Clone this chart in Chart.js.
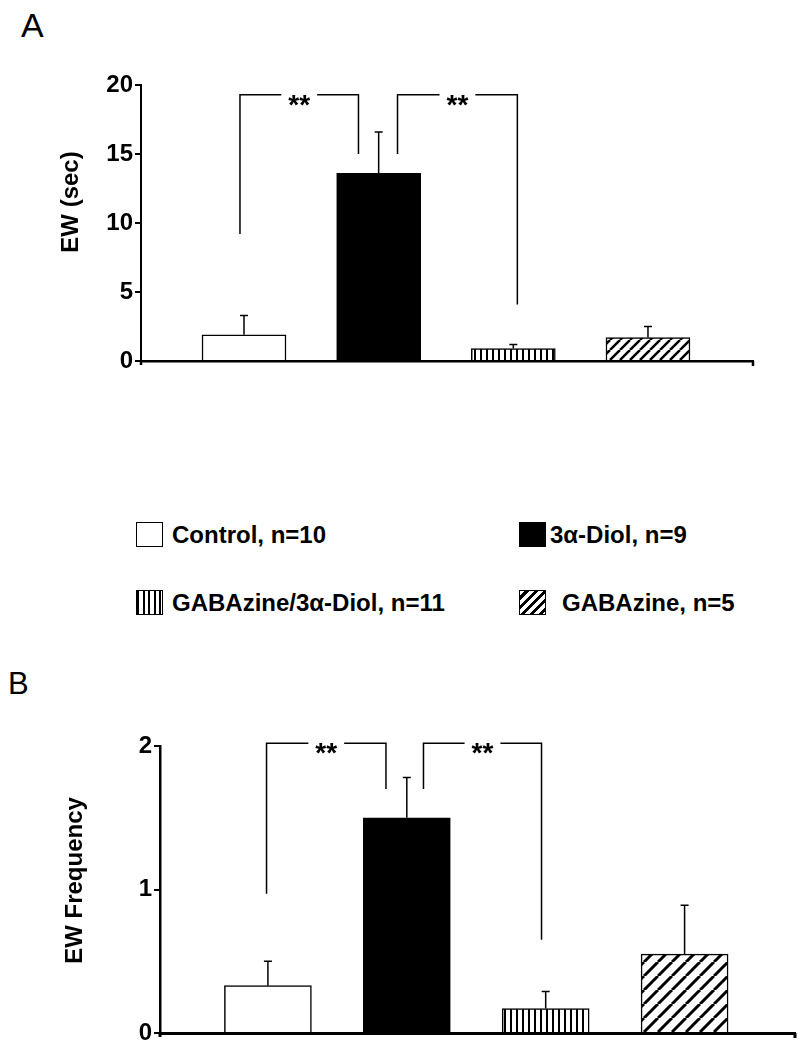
<!DOCTYPE html>
<html>
<head>
<meta charset="utf-8">
<script src="https://cdn.jsdelivr.net/npm/chart.js@4.4.1/dist/chart.umd.min.js"></script>
<style>
  html, body { margin: 0; padding: 0; background: #fff; }
  body { width: 803px; height: 1050px; position: relative; overflow: hidden;
         font-family: "Liberation Sans", Arial, sans-serif; color: #000; }
  .panel { position: absolute; left: 0; }
  .letter { position: absolute; line-height: 1; }
  .leg { position: absolute; font-size: 24px; font-weight: bold; line-height: 25px; white-space: nowrap; }
  .sw { position: absolute; width: 27px; height: 25px; box-sizing: border-box; border: 1.5px solid #000; background: #fff; }
</style>
</head>
<body>

<div class="letter" style="left:21px; top:8px; font-size:34px;">A</div>
<div class="panel" style="top:0;"><canvas id="chartA" width="803" height="400"></canvas></div>

<div id="legend"></div>

<div class="letter" style="left:8px; top:668px; font-size:31px;">B</div>
<div class="panel" style="top:640px;"><canvas id="chartB" width="803" height="410"></canvas></div>

<script>
// datos
const categories = ['Control', '3α-Diol', 'GABAzine/3α-Diol', 'GABAzine'];
const legendLabels = ['Control, n=10', '3α-Diol, n=9', 'GABAzine/3α-Diol, n=11', 'GABAzine, n=5'];

const ewSec = [1.9, 13.6, 0.9, 1.7];
const ewSecErr = [1.4, 3.0, 0.3, 0.8];
const ewSecTicks = [0, 5, 10, 15, 20];

const ewFreq = [0.33, 1.5, 0.17, 0.55];
const ewFreqErr = [0.17, 0.28, 0.12, 0.34];
const ewFreqTicks = [0, 1, 2];

const FONT = '"Liberation Sans", Arial, sans-serif';

// patrones de relleno
function stripes(gap, lw) {
  const c = document.createElement('canvas');
  c.width = gap; c.height = gap;
  const g = c.getContext('2d');
  g.fillStyle = '#fff'; g.fillRect(0, 0, gap, gap);
  g.fillStyle = '#000'; g.fillRect(0, 0, lw, gap);
  return g.createPattern(c, 'repeat');
}
function hatch(size, lw) {
  const c = document.createElement('canvas');
  c.width = size; c.height = size;
  const g = c.getContext('2d');
  g.fillStyle = '#fff'; g.fillRect(0, 0, size, size);
  g.strokeStyle = '#000'; g.lineWidth = lw;
  g.beginPath();
  [-size, 0, size].forEach(k => { g.moveTo(k, size); g.lineTo(k + size, 0); });
  g.stroke();
  return g.createPattern(c, 'repeat');
}

// barras de error, corchetes de significancia, titulo del eje
const extras = {
  id: 'extras',
  afterDatasetsDraw(chart, args, o) {
    const ctx = chart.ctx;
    const xs = chart.scales.x, ys = chart.scales.y;
    const area = chart.chartArea;
    ctx.save();
    ctx.strokeStyle = '#000';
    ctx.fillStyle = '#000';

    // error (solo hacia arriba)
    ctx.lineWidth = 1.5;
    o.values.forEach((v, i) => {
      const x = xs.getPixelForValue(i);
      const y0 = ys.getPixelForValue(v);
      const y1 = ys.getPixelForValue(v + o.errors[i]);
      ctx.beginPath();
      ctx.moveTo(x, y0); ctx.lineTo(x, y1);
      ctx.moveTo(x - o.cap, y1); ctx.lineTo(x + o.cap, y1);
      ctx.stroke();
    });

    // corchetes **
    ctx.font = 'bold 28px ' + FONT;
    ctx.textAlign = 'center';
    ctx.textBaseline = 'alphabetic';
    o.brackets.forEach(b => {
      const xa = xs.getPixelForValue(b.x1), xb = xs.getPixelForValue(b.x2);
      const yt = ys.getPixelForValue(b.yTop);
      const xm = (xa + xb) / 2;
      const half = ctx.measureText(b.text).width / 2 + 7;
      ctx.beginPath();
      ctx.moveTo(xa, ys.getPixelForValue(b.y1)); ctx.lineTo(xa, yt); ctx.lineTo(xm - half, yt);
      ctx.moveTo(xm + half, yt); ctx.lineTo(xb, yt); ctx.lineTo(xb, ys.getPixelForValue(b.y2));
      ctx.stroke();
      ctx.fillText(b.text, xm, yt + 19);
    });

    // gancho al final del eje x y prolongacion del eje y
    ctx.lineWidth = o.axisWidth;
    ctx.beginPath();
    ctx.moveTo(area.right, area.bottom); ctx.lineTo(area.right, area.bottom + 5);
    ctx.moveTo(area.left, area.bottom); ctx.lineTo(area.left, area.bottom + 4);
    ctx.stroke();

    // titulo del eje y
    ctx.font = 'bold 24px ' + FONT;
    ctx.textBaseline = 'middle';
    ctx.translate(o.titleX, (area.top + area.bottom) / 2 + o.titleShift);
    ctx.rotate(-Math.PI / 2);
    ctx.fillText(o.title, 0, 0);
    ctx.restore();
  }
};

function makeChart(id, values, errors, tickVals, cfg) {
  const ctx = document.getElementById(id).getContext('2d');
  return new Chart(ctx, {
    type: 'bar',
    data: {
      labels: categories,
      datasets: [{
        label: cfg.title,
        data: values.map((v, i) => ({ x: i, y: v })),
        backgroundColor: ['#fff', '#000', stripes(6, 2), hatch(cfg.hatch, cfg.hatchWidth)],
        borderColor: '#000',
        borderWidth: 1.5,
        borderSkipped: 'bottom',
        barThickness: cfg.barWidth
      }]
    },
    options: {
      responsive: false,
      animation: false,
      devicePixelRatio: 1,
      layout: { padding: { top: cfg.top, right: cfg.right, left: 0, bottom: 0 } },
      plugins: {
        legend: { display: false },
        tooltip: { enabled: false },
        extras: {
          values: values, errors: errors, cap: 4,
          brackets: cfg.brackets, axisWidth: cfg.xAxisWidth,
          title: cfg.title, titleX: cfg.titleX, titleShift: cfg.titleShift
        }
      },
      scales: {
        x: {
          type: 'linear',
          offset: false,
          min: cfg.xMin, max: cfg.xMax,
          ticks: { display: false },
          grid: { display: false, drawTicks: false, offset: false },
          border: { display: true, color: '#000', width: cfg.xAxisWidth },
          afterFit: s => { s.height = cfg.xHeight; }
        },
        y: {
          min: tickVals[0], max: tickVals[tickVals.length - 1],
          afterBuildTicks: s => { s.ticks = tickVals.map(v => ({ value: v })); },
          ticks: { color: '#000', padding: 2, font: { family: FONT, size: 24, weight: 'bold' } },
          grid: { display: true, drawOnChartArea: false, drawTicks: true, tickLength: 6, color: '#000', lineWidth: 2 },
          border: { display: true, color: '#000', width: cfg.yAxisWidth },
          afterFit: s => { s.width = cfg.yWidth; }
        }
      }
    },
    plugins: [extras]
  });
}

makeChart('chartA', ewSec, ewSecErr, ewSecTicks, {
  title: 'EW (sec)', titleX: 71, titleShift: -21,
  top: 85, right: 50, yWidth: 141, xHeight: 39,
  xMin: -0.765, xMax: 3.78, barWidth: 84,
  hatch: 10, hatchWidth: 2.5, xAxisWidth: 2.5, yAxisWidth: 2,
  brackets: [
    { x1: -0.03, x2: 0.85, yTop: 19.3, y1: 9.2, y2: 15.0, text: '**' },
    { x1: 1.14, x2: 2.03, yTop: 19.3, y1: 15.0, y2: 4.1, text: '**' }
  ]
});

makeChart('chartB', ewFreq, ewFreqErr, ewFreqTicks, {
  title: 'EW Frequency', titleX: 75, titleShift: -9,
  top: 106, right: 8, yWidth: 160, xHeight: 17,
  xMin: -0.777, xMax: 3.795, barWidth: 87,
  hatch: 14, hatchWidth: 3, xAxisWidth: 3, yAxisWidth: 2.5,
  brackets: [
    { x1: -0.01, x2: 0.85, yTop: 2.02, y1: 0.97, y2: 1.70, text: '**' },
    { x1: 1.12, x2: 1.97, yTop: 2.02, y1: 1.70, y2: 0.65, text: '**' }
  ]
});

// leyenda compartida
const swatches = [
  '#fff',
  '#000',
  'repeating-linear-gradient(90deg, #000 0 2px, #fff 2px 5.5px)',
  'repeating-linear-gradient(135deg, #fff 0 3.5px, #000 3.5px 6.5px)'
];
const legendPos = [
  { box: [136, 522], text: [172, 522] },
  { box: [519, 522], text: [550, 522] },
  { box: [136, 590], text: [172, 590] },
  { box: [519, 590], text: [562, 590] }
];
const legend = document.getElementById('legend');
legendLabels.forEach((lab, i) => {
  const p = legendPos[i];
  const sw = document.createElement('div');
  sw.className = 'sw';
  sw.style.left = p.box[0] + 'px';
  sw.style.top = p.box[1] + 'px';
  sw.style.background = swatches[i];
  legend.appendChild(sw);
  const t = document.createElement('div');
  t.className = 'leg';
  t.style.left = p.text[0] + 'px';
  t.style.top = p.text[1] + 'px';
  t.textContent = lab;
  legend.appendChild(t);
});
</script>
</body>
</html>
